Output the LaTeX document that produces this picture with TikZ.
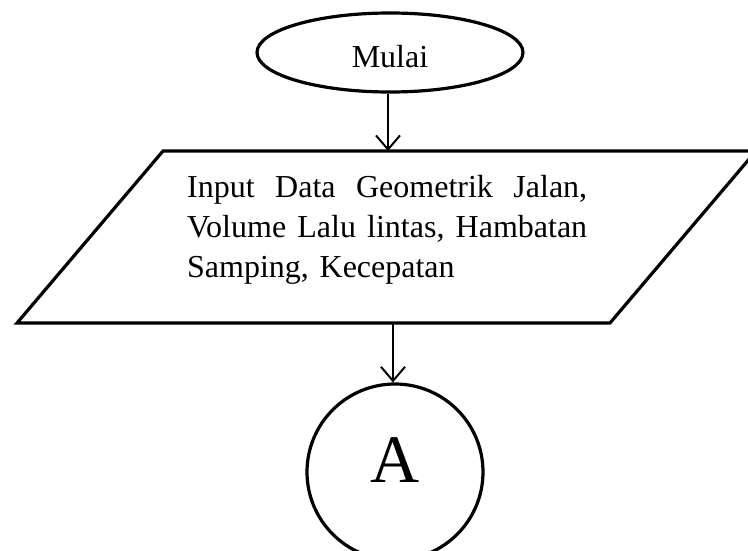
\documentclass[tikz,border=0pt]{standalone}
\usepackage{fontspec}
\setmainfont{Liberation Serif}
\usetikzlibrary{arrows.meta,shapes.geometric}

\tikzset{
  outline/.style={draw=black, line width=3.2pt},
  flow/.style={draw=black, line width=2pt, -{Straight Barb[length=14pt,width=24pt,line width=2pt]}},
  bodytext/.style={font=\fontsize{32}{40}\selectfont},
}

\begin{document}
\begin{tikzpicture}[x=1pt, y=-1pt]
  \clip (0,0) rectangle (748,551);
  \useasboundingbox (0,0) rectangle (748,551);

  % start terminal
  \node[outline, ellipse, minimum width=266pt, minimum height=79pt, inner sep=0pt,
        bodytext, text height=30pt, text depth=0pt] (start) at (390,52.5) {Mulai};

  % input/output parallelogram
  \coordinate (pTL) at (163,151);
  \coordinate (pTR) at (756,151);
  \coordinate (pBR) at (610,323);
  \coordinate (pBL) at (17,323);
  \draw[outline, line join=miter] (pTL) -- (pTR) -- (pBR) -- (pBL) -- cycle;
  \coordinate (inTop) at (388,151);
  \coordinate (inBot) at (393,323);

  % justified input text
  \node[bodytext, anchor=north west, inner sep=0pt, text width=400pt, align=left] (data) at (187,175)
    {\leavevmode\hbox to 400pt{Input\hfill Data\hfill Geometrik\hfill Jalan,}\\
     \leavevmode\hbox to 400pt{Volume\hfill Lalu\hfill lintas,\hfill Hambatan}\\
     Samping, Kecepatan};

  % off-page connector
  \node[outline, circle, minimum size=176pt, inner sep=0pt,
        font=\fontsize{68}{68}\selectfont, text depth=24pt] (conA) at (395,472) {A};

  % connectors
  \draw[flow] (start.south -| inTop) -- (inTop);
  \draw[flow] (inBot) -- (inBot |- conA.north);
\end{tikzpicture}
\end{document}
